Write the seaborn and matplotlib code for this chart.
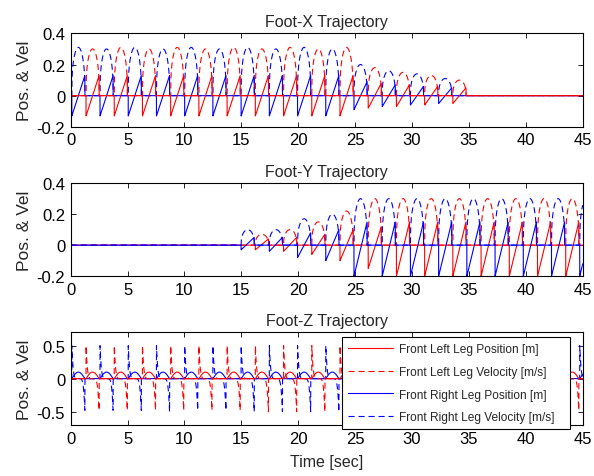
import numpy as np
import pandas as pd
import matplotlib
matplotlib.use("Agg")
import matplotlib.pyplot as plt
import seaborn as sns
from matplotlib.lines import Line2D

# Swing-phase start times of each leg [s]
right_starts = [0.10, 2.58, 5.06, 7.54, 10.02, 12.50, 14.98, 17.46, 19.94, 22.42,
                24.90, 27.38, 29.86, 32.34, 34.82, 37.30, 39.78, 42.26, 44.74]
left_starts = [1.35, 3.83, 6.31, 8.79, 11.27, 13.75, 16.23, 18.71, 21.19, 23.67,
               26.15, 28.63, 31.11, 33.59, 36.07, 38.55, 41.03, 43.51]

# Foot-X: per-step peak position [m] and peak velocity [m/s]
x_right_pos = [0.13, 0.13, 0.13, 0.13, 0.13, 0.13, 0.13, 0.13, 0.13, 0.13,
               0.09, 0.07, 0.06, 0.05, 0, 0, 0, 0, 0]
x_right_vel = [0.31, 0.30, 0.31, 0.30, 0.31, 0.30, 0.31, 0.30, 0.31, 0.30,
               0.20, 0.16, 0.14, 0.11, 0, 0, 0, 0, 0]
x_left_pos = [0.13, 0.13, 0.13, 0.13, 0.13, 0.13, 0.13, 0.13, 0.13, 0.13,
              0.08, 0.07, 0.06, 0.05, 0, 0, 0, 0]
x_left_vel = [0.30, 0.31, 0.30, 0.31, 0.30, 0.31, 0.30, 0.31, 0.30, 0.31,
              0.18, 0.15, 0.13, 0.10, 0, 0, 0, 0]

# Foot-Y: per-step upper / lower position [m] and peak velocity [m/s]
y_right_hi = [0, 0, 0, 0, 0, 0, 0.05, 0.05, 0.08, 0.10,
              0.15, 0.15, 0.15, 0.15, 0.15, 0.15, 0.15, 0.15, 0.15]
y_right_lo = [0, 0, 0, 0, 0, 0, 0.03, 0.04, 0.08, 0.10,
              0.20, 0.20, 0.20, 0.20, 0.20, 0.20, 0.20, 0.20, 0.20]
y_right_vel = [0, 0, 0, 0, 0, 0, 0.10, 0.10, 0.17, 0.20,
               0.30, 0.30, 0.30, 0.30, 0.30, 0.30, 0.30, 0.30, 0.30]
y_left_hi = [0, 0, 0, 0, 0, 0, 0.04, 0.05, 0.07, 0.10,
             0.12, 0.15, 0.15, 0.15, 0.15, 0.15, 0.15, 0.15]
y_left_lo = [0, 0, 0, 0, 0, 0, 0.03, 0.04, 0.06, 0.10,
             0.15, 0.20, 0.20, 0.20, 0.20, 0.20, 0.20, 0.20]
y_left_vel = [0, 0, 0, 0, 0, 0, 0.07, 0.10, 0.15, 0.22,
              0.30, 0.30, 0.30, 0.30, 0.30, 0.30, 0.30, 0.30]

# Foot-Z: per-step lift height [m] and peak velocity [m/s]
z_right_pos = [0.10, 0.10, 0.10, 0.10, 0.10, 0.10, 0.10, 0.10, 0.10, 0.10,
               0, 0, 0, 0, 0, 0, 0, 0, 0.10]
z_right_vel = [0.50, 0.50, 0.50, 0.50, 0.50, 0.50, 0.50, 0.50, 0.50, 0.50,
               0, 0, 0, 0, 0, 0, 0, 0, 0.50]
z_left_pos = [0.10, 0.10, 0.10, 0.10, 0.10, 0.10, 0.10, 0.10, 0.10, 0.10,
              0, 0, 0, 0, 0, 0, 0, 0.10]
z_left_vel = [0.50, 0.50, 0.50, 0.50, 0.50, 0.50, 0.50, 0.50, 0.50, 0.50,
              0, 0, 0, 0, 0, 0, 0, 0.50]

series_names = ["Front Left Leg Position [m]", "Front Left Leg Velocity [m/s]",
                "Front Right Leg Position [m]", "Front Right Leg Velocity [m/s]"]
titles = ["Foot-X Trajectory", "Foot-Y Trajectory", "Foot-Z Trajectory"]

SWING = 1.15
t = np.linspace(0, 45, 9001)


def swing_signal(starts, amps, profile, lows=None):
    y = np.zeros_like(t)
    for i, (t0, a) in enumerate(zip(starts, amps)):
        lo = a if lows is None else lows[i]
        if a == 0 and lo == 0:
            continue
        s = (t - t0) / SWING
        m = (s >= 0) & (s < 1)
        y[m] = profile(s[m], a, lo)
    return y


ramp = lambda s, hi, lo: -lo + (hi + lo) * s
bump = lambda s, hi, lo: hi * np.sin(np.pi * s) ** 0.35
arc = lambda s, hi, lo: hi * np.sin(np.pi * s)
spike = lambda s, hi, lo: hi * (1 - 2 * s) ** 5

panels = [
    [swing_signal(left_starts, x_left_pos, ramp), swing_signal(left_starts, x_left_vel, bump),
     swing_signal(right_starts, x_right_pos, ramp), swing_signal(right_starts, x_right_vel, bump)],
    [swing_signal(left_starts, y_left_hi, ramp, y_left_lo), swing_signal(left_starts, y_left_vel, bump),
     swing_signal(right_starts, y_right_hi, ramp, y_right_lo), swing_signal(right_starts, y_right_vel, bump)],
    [swing_signal(left_starts, z_left_pos, arc), swing_signal(left_starts, z_left_vel, spike),
     swing_signal(right_starts, z_right_pos, arc), swing_signal(right_starts, z_right_vel, spike)],
]

sns.set_theme(style="white")
plt.rcParams["font.family"] = ["Liberation Sans", "DejaVu Sans"]

colors = ["#ff0000", "#ff0000", "#0000ff", "#0000ff"]
dash_styles = ["", (5.5, 3.5), "", (5.5, 3.5)]
palette = dict(zip(series_names, colors))
dashes = dict(zip(series_names, dash_styles))

# drawing order of the four series in each panel (last one ends up on top)
draw_orders = [[2, 3, 0, 1], [0, 1, 2, 3], [2, 3, 0, 1]]

fig = plt.figure(figsize=(5.94, 4.77), dpi=100)
boxes = [(0.119, 0.732, 0.862, 0.196), (0.119, 0.419, 0.862, 0.195), (0.119, 0.107, 0.862, 0.194)]
ylims = [(-0.2, 0.4), (-0.2, 0.4), (-0.7, 0.7)]
yticks = [[-0.2, 0, 0.2, 0.4], [-0.2, 0, 0.2, 0.4], [-0.5, 0, 0.5]]
yticklabels = [["-0.2", "0", "0.2", "0.4"], ["-0.2", "0", "0.2", "0.4"], ["-0.5", "0", "0.5"]]

for p, sig in enumerate(panels):
    ax = fig.add_axes(boxes[p])
    order = [series_names[i] for i in draw_orders[p]]
    df = pd.concat([pd.DataFrame({"time": t, "value": sig[i], "series": series_names[i]})
                    for i in draw_orders[p]], ignore_index=True)
    sns.lineplot(data=df, x="time", y="value", hue="series", style="series",
                 hue_order=order, style_order=order,
                 palette=palette, dashes=dashes, estimator=None, sort=False,
                 linewidth=0.8, legend=False, ax=ax)
    ax.set_xlim(0, 45)
    ax.set_ylim(*ylims[p])
    ax.set_xticks(range(0, 46, 5))
    ax.set_yticks(yticks[p])
    ax.set_yticklabels(yticklabels[p])
    ax.set_title(titles[p], fontsize=11.5, pad=5)
    ax.set_ylabel("Pos. & Vel", fontsize=12.5, labelpad=3)
    ax.set_xlabel("Time [sec]" if p == 2 else "", fontsize=11.5, labelpad=6)
    ax.tick_params(direction="in", length=3.5, width=0.6, labelsize=12,
                   top=True, right=True, bottom=True, left=True, pad=4, colors="black")
    for sp in ax.spines.values():
        sp.set_visible(True)
        sp.set_color("black")
        sp.set_linewidth(0.8)

    if p == 2:
        handles = [Line2D([0], [0], color=c, lw=0.8,
                          linestyle=(0, d) if d else "-") for c, d in zip(colors, dash_styles)]
        leg = ax.legend(handles, series_names, loc="upper left",
                        bbox_to_anchor=(0.529, 0.95, 0.446, 0.0), mode="expand",
                        fontsize=8.6, handlelength=3.8, handletextpad=0.5,
                        labelspacing=0.9, borderpad=0.5, frameon=True,
                        fancybox=False, framealpha=1, borderaxespad=0)
        leg.get_frame().set_edgecolor("black")
        leg.get_frame().set_linewidth(0.8)

fig.savefig("out.png", dpi=100)
